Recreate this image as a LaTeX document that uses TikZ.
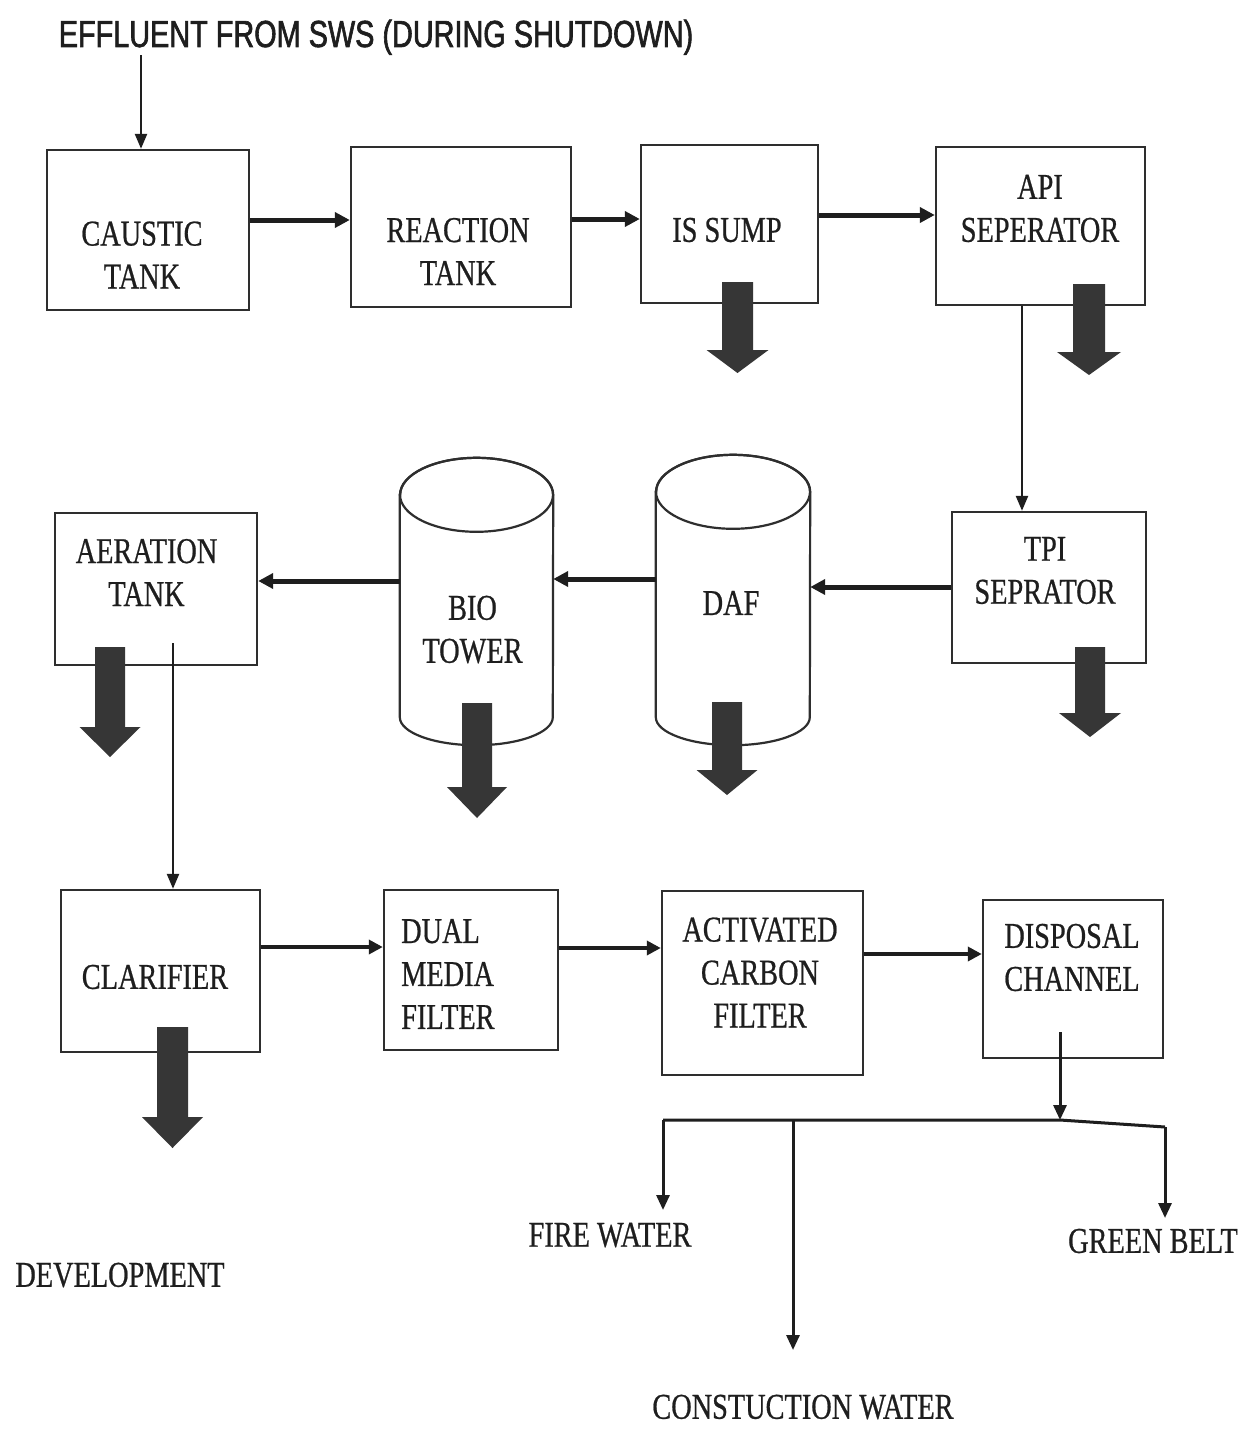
\documentclass[tikz,border=0pt]{standalone}
\usepackage{fontspec}
\setmainfont{Liberation Serif}[FakeStretch=0.78,FakeBold=0.6]
\newfontfamily\ttlfont{Liberation Sans}[FakeStretch=0.765,FakeBold=1.6]
\usetikzlibrary{arrows.meta,fit}
\newcommand\bxfont{\fontsize{36.3}{43}\selectfont}
\newcommand\fatarr[6]{%
  \fill[fatfill] (#1-#5,#2) -- (#1+#5,#2) -- (#1+#5,#3) -- (#1+#6,#3) -- (#1,#4) -- (#1-#6,#3) -- (#1-#5,#3) -- cycle;}
\definecolor{ink}{HTML}{1E1E1E}
\definecolor{boxline}{HTML}{2E2E2E}
\definecolor{fatgray}{HTML}{363636}
\begin{document}
\begin{tikzpicture}[x=1pt,y=-1pt,
  box/.style={draw=boxline, line width=2.4pt, inner sep=0pt, fill=white},
  cylline/.style={draw=boxline, line width=2.2pt, fill=white},
  txt/.style={font=\bxfont, inner sep=0pt, align=center, text=ink},
  fatfill/.style={fill=fatgray},
  flowthick/.style={draw=ink, line width=5pt, -{Triangle[length=15pt,width=15pt]}},
  flowmid/.style={draw=ink, line width=4pt, -{Triangle[length=14pt,width=14pt]}},
  flowthin/.style={draw=ink, line width=2.4pt, -{Triangle[length=15pt,width=12pt]}},
  busline/.style={draw=ink, line width=3pt},
  busarrow/.style={draw=ink, line width=3pt, -{Triangle[length=15pt,width=13pt]}}
]
\useasboundingbox (0,0) rectangle (1249,1429);
\fill[white] (0,0) rectangle (1249,1429);

% title
\node[anchor=base, font=\ttlfont\fontsize{37.7}{44}\selectfont, inner sep=0pt, text=ink] (title) at (376,47) {EFFLUENT FROM SWS (DURING SHUTDOWN)};

% top row boxes
\node[box, fit={(47,150) (249,310)}] (caustic) {};
\node[box, fit={(351,147) (571,307)}] (reaction) {};
\node[box, fit={(641,145) (818,303)}] (issump) {};
\node[box, fit={(936,147) (1145,305)}] (api) {};
\node[txt] (caustictxt) at (142,255) {CAUSTIC\\TANK};
\node[txt] (reactiontxt) at (458,251.5) {REACTION\\TANK};
\node[txt] (issumptxt) at (727,230) {IS SUMP};
\node[txt] (apitxt) at (1040,208.5) {API\\SEPERATOR};

% middle row
\node[box, fit={(952,512) (1146,663)}] (tpi) {};
\node[txt] (tpitxt) at (1045,570.5) {TPI\\SEPRATOR};
\node[box, fit={(55,513) (257,665)}] (aeration) {};
\node[txt] (aerationtxt) at (146.5,572.5) {AERATION\\TANK};

% cylinders
\node[inner sep=0pt, fit={(400,495) (553,717)}] (bio) {};
\path[cylline] (bio.north west) -- (bio.south west)
  arc[start angle=180, end angle=0, x radius=76.5, y radius=28]
  -- (bio.north east)
  arc[start angle=360, end angle=180, x radius=76.5, y radius=37] -- cycle;
\draw[draw=boxline, line width=2.2pt] (bio.north) ellipse[x radius=76.5, y radius=37];
\node[txt] (biotxt) at (472.5,629.5) {BIO\\TOWER};

\node[inner sep=0pt, fit={(656,492) (810,717)}] (daf) {};
\path[cylline] (daf.north west) -- (daf.south west)
  arc[start angle=180, end angle=0, x radius=77, y radius=28]
  -- (daf.north east)
  arc[start angle=360, end angle=180, x radius=77, y radius=37] -- cycle;
\draw[draw=boxline, line width=2.2pt] (daf.north) ellipse[x radius=77, y radius=37];
\node[txt] (daftxt) at (731,603) {DAF};

% bottom row
\node[box, fit={(61,890) (260,1052)}] (clarifier) {};
\node[txt] (clarifiertxt) at (155,977) {CLARIFIER};
\node[box, fit={(384,890) (558,1050)}] (dual) {};
\node[txt, align=left, anchor=west] (dualtxt) at (401,974) {DUAL\\MEDIA\\FILTER};
\node[box, fit={(662,891) (863,1075)}] (activated) {};
\node[txt] (activatedtxt) at (760,972.5) {ACTIVATED\\CARBON\\FILTER};
\node[box, fit={(983,900) (1163,1058)}] (disposal) {};
\node[txt] (disposaltxt) at (1072,957.5) {DISPOSAL\\CHANNEL};

% outlet labels
\node[txt] (firewater) at (610,1235) {FIRE WATER};
\node[txt] (greenbelt) at (1153,1241) {GREEN BELT};
\node[txt] (construction) at (803,1407) {CONSTUCTION WATER};
\node[txt] (development) at (120,1275) {DEVELOPMENT};

% connectors
\draw[flowthin] (title.south -| 141,0) -- (caustic.north -| 141,0);
\draw[flowthick] (caustic.east |- 0,220) -- (reaction.west |- 0,220);
\draw[flowthick] (reaction.east |- 0,219) -- (issump.west |- 0,219);
\draw[flowthick] (issump.east |- 0,215) -- (api.west |- 0,215);
\draw[flowthin] (api.south -| 1022,0) -- (tpi.north -| 1022,0);
\draw[flowthick] (tpi.west |- 0,587) -- (daf.east |- 0,587);
\draw[flowthick] (daf.west |- 0,579) -- (bio.east |- 0,579);
\draw[flowthick] (bio.west |- 0,581) -- (aeration.east |- 0,581);
\draw[flowthin] (173,643) coordinate (aerout) -- (clarifier.north -| aerout);
\draw[flowmid] (clarifier.east |- 0,947) -- (dual.west |- 0,947);
\draw[flowmid] (dual.east |- 0,948) -- (activated.west |- 0,948);
\draw[flowmid] (activated.east |- 0,954) -- (disposal.west |- 0,954);

% distribution
\coordinate (busL) at (663,1120);
\coordinate (busM) at (793,1120);
\coordinate (busD) at (1060,1120);
\coordinate (busR) at (1165,1127);
\coordinate (fireend) at (663,1210);
\coordinate (consend) at (793,1350);
\coordinate (greenend) at (1165,1218);
\draw[busline] (busL) -- (busD) -- (busR);
\draw[busarrow] (1060,1032) -- (busD);
\draw[busarrow] (busL) -- (fireend);
\draw[busarrow] (busM) -- (consend);
\draw[busarrow] (busR) -- (greenend);

% block (discharge) arrows
\fatarr{737.5}{282}{350}{373}{15.5}{31}
\fatarr{1089}{284}{352}{375}{16}{32}
\fatarr{1090}{647}{713}{737}{15}{31}
\fatarr{727}{702}{770}{795}{15}{30.5}
\fatarr{477}{703}{787}{818}{15}{30}
\fatarr{110}{647}{727}{757}{15}{30.5}
\fatarr{172.5}{1027}{1117}{1148}{15.5}{30.5}
\end{tikzpicture}
\end{document}
